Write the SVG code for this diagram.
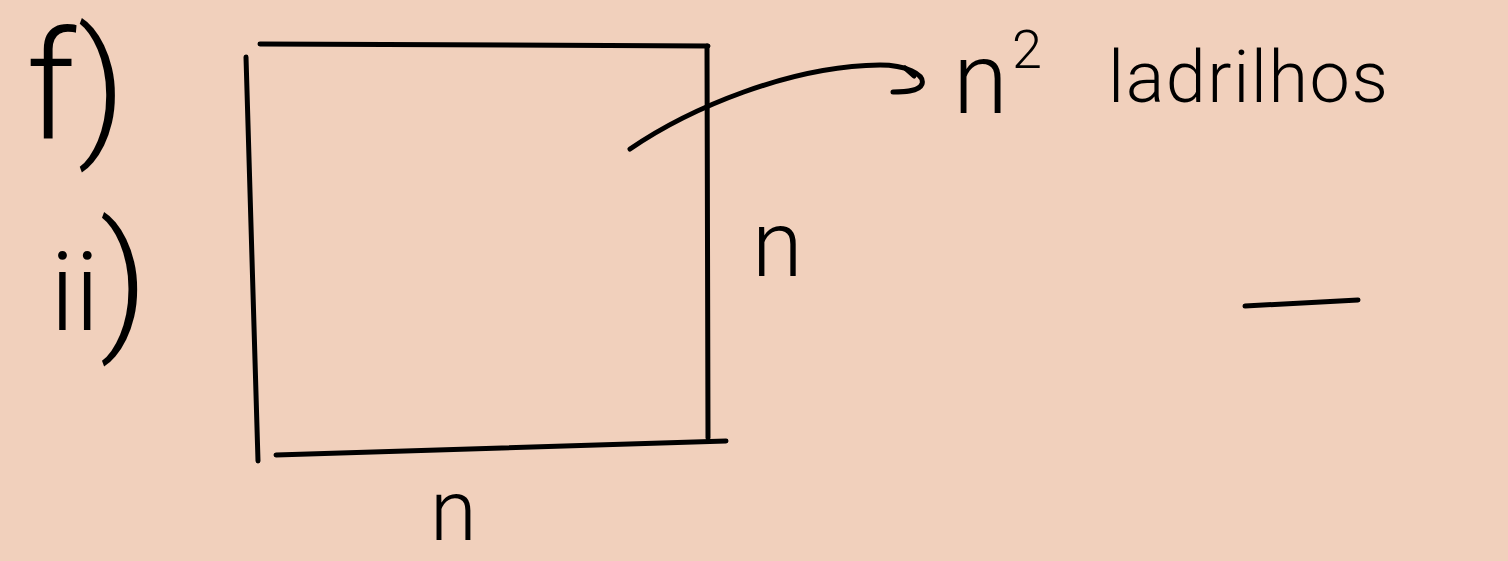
<svg xmlns="http://www.w3.org/2000/svg" width="1508" height="561" viewBox="0 0 1508 561">
<style>
.ink{fill:none;stroke:#000;stroke-width:5;stroke-linecap:round;stroke-linejoin:round}
.t{font-family:Roboto,"Liberation Sans",sans-serif;font-weight:300;fill:#000}
</style>
<rect x="0" y="0" width="1508" height="561" fill="#F1D0BC"/>
<g id="labels-left">
<text class="t" x="26" y="138" font-size="150">f)</text>
<text class="t" x="50" y="330" font-size="110">ii<tspan font-size="150" dy="2">)</tspan></text>
</g>
<g id="square">
<path class="ink" d="M260,44 L708,46"/>
<path class="ink" d="M246,57 L258,461"/>
<path class="ink" d="M707,46 L708,438"/>
<path class="ink" d="M276,455 L726,441"/>
</g>
<g id="side-labels">
<text class="t" x="752" y="276" font-size="92">n</text>
<text class="t" x="430" y="540" font-size="85">n</text>
</g>
<g id="connectors">
<path class="ink" stroke-width="6.5" d="M630,149 C690,108 790,66 880,65 C905,65 925,74 922,84 C919,92 902,92 893,92"/>
<path class="ink" stroke-width="6" d="M905,68 L914,76"/>
</g>
<g id="result-label">
<text class="t" x="953" y="113" font-size="100">n<tspan font-size="54" dx="4" dy="-45">2</tspan></text>
<text class="t" x="1108" y="102" font-size="72" textLength="280" lengthAdjust="spacing">ladrilhos</text>
</g>
<g id="dash">
<path class="ink" d="M1245,306 L1358,300"/>
</g>
</svg>
